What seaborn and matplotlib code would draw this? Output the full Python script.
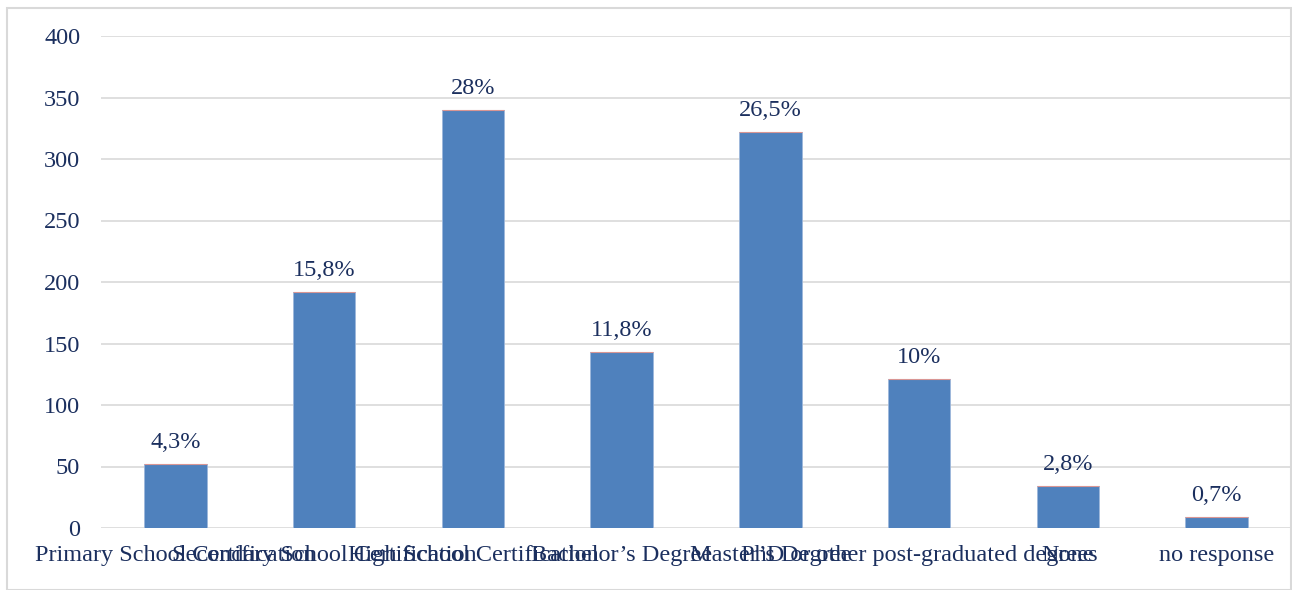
import matplotlib
matplotlib.use("Agg")
import matplotlib.pyplot as plt
import seaborn as sns
import pandas as pd

# Dados do gráfico
categorias = ["Primary School Certification", "Secondary School Certification",
              "High School Certification", "Bachelor\u2019s Degree", "Master\u2019s Degree",
              "PhD or other post-graduated degrees", "None", "no response"]
valores = [52, 192, 340, 143, 322, 121, 34, 9]
rotulos = ["4,3%", "15,8%", "28%", "11,8%", "26,5%", "10%", "2,8%", "0,7%"]

df = pd.DataFrame({"categoria": categorias, "valor": valores})

sns.set_style("white")
plt.rcParams["font.family"] = ["Liberation Serif", "DejaVu Serif"]
cor_texto = "#1B2F5E"

fig = plt.figure(figsize=(12.92, 5.9), dpi=100)
ax = fig.add_axes([101 / 1292, 1 - 528 / 590, 1190 / 1292, 492 / 590])

sns.barplot(data=df, x="categoria", y="valor", color="#4F81BD", width=0.42,
            saturation=1, edgecolor="#9DB7DB", linewidth=0.6, ax=ax, zorder=3)

# linha fina avermelhada no topo das barras
for i, v in enumerate(valores):
    ax.hlines(v, i - 0.21, i + 0.21, color="#D99694", linewidth=0.8, zorder=4)

for i, (v, r) in enumerate(zip(valores, rotulos)):
    ax.annotate(r, (i, v), xytext=(0, 8), textcoords="offset points",
                ha="center", va="bottom", fontsize=17.5, color=cor_texto)

ax.set_ylim(0, 400)
ax.set_yticks(range(0, 401, 50))
ax.set_xlim(-0.5, len(categorias) - 0.5)
ax.yaxis.grid(True, color="#D9D9D9", linewidth=1.2, zorder=0)
ax.set_xlabel("")
ax.set_ylabel("")
for s in ax.spines.values():
    s.set_visible(False)
ax.tick_params(axis="both", length=0, labelsize=17.5, labelcolor=cor_texto)
ax.tick_params(axis="y", pad=15)
ax.tick_params(axis="x", pad=12)

# Borda da figura
fig.patches.append(plt.Rectangle((7 / 1292, 0), 1 - 8 / 1292, 1 - 8 / 590,
                                 transform=fig.transFigure, fill=False,
                                 edgecolor="#D9D9D9", linewidth=1.5))

fig.savefig("out.png", dpi=100)
